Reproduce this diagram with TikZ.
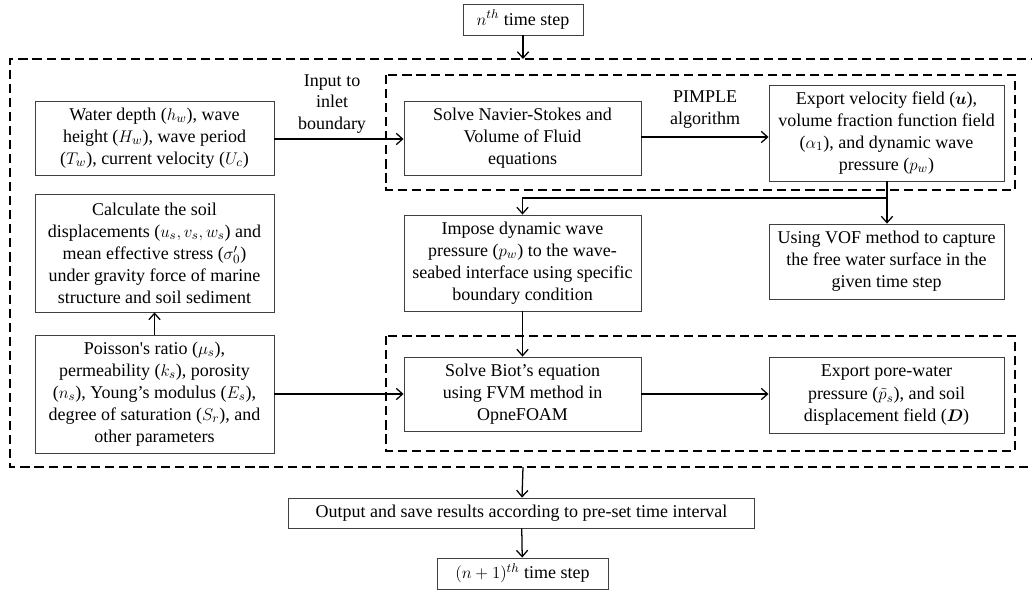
\documentclass[tikz,border=0pt]{standalone}
\usepackage{fontspec}
\setmainfont{Liberation Serif}
\usepackage{amsmath}
\usetikzlibrary{arrows.meta, positioning}
\tikzset{
  box/.style={draw=black!75, line width=0.6pt, align=center, inner sep=0pt, font=\fontsize{12.8}{15.6}\selectfont},
  lbl/.style={align=center, inner sep=0pt, font=\fontsize{12.8}{15.6}\selectfont},
  flow/.style={-{Straight Barb[length=4.5pt,width=8pt]}, line width=0.9pt},
  group/.style={dash pattern=on 6.5pt off 3.5pt, line width=0.9pt}
}

\begin{document}
\begin{tikzpicture}[x=0.025cm, y=-0.025cm]

\useasboundingbox (0,0) rectangle (1032,592);

% dashed groups
\draw[group] (1040,59) -- (10,59) -- (10,467) -- (1040,467);
\draw[group] (386,75) rectangle (1015,190);
\draw[group] (386,336) rectangle (1015,451);
\coordinate (otop) at (523,59);
\coordinate (obot) at (523,467);
\coordinate (split) at (887,198);

% boxes
\node[box, minimum width=85.4pt, minimum height=22.1pt] (nth) at (523,19.5) {$n^{th}$ time step};
\node[box, minimum width=170pt, minimum height=52.6pt] (inp) at (154.5,138) {Water depth ($h_w$), wave\\height ($H_w$), wave period\\($T_w$), current velocity ($U_c$)};
\node[box, minimum width=168.6pt, minimum height=52.6pt] (ns) at (522.5,138) {Solve Navier-Stokes and\\Volume of Fluid\\equations};
\node[box, minimum width=167.2pt, minimum height=68.3pt] (vel) at (886.5,133) {Export velocity field ($\boldsymbol{u}$),\\volume fraction function field\\($\alpha_1$), and dynamic wave\\pressure ($p_w$)};
\node[box, minimum width=168.6pt, minimum height=68.3pt] (imp) at (522.5,263) {Impose dynamic wave\\pressure ($p_w$) to the wave-\\seabed interface using specific\\boundary condition};
\node[box, minimum width=167.2pt, minimum height=53.3pt] (vof) at (886.5,261.5) {Using VOF method to capture\\the free water surface in the\\given time step};
\node[box, minimum width=170pt, minimum height=83.9pt] (calc) at (154.5,253) {Calculate the soil\\displacements ($u_s,v_s,w_s$) and\\mean effective stress ($\sigma_0'$)\\under gravity force of marine\\structure and soil sediment};
\node[box, minimum width=170pt, minimum height=83.9pt] (pois) at (154.5,394) {Poisson\textquotesingle s ratio ($\mu_s$),\\permeability ($k_s$), porosity\\($n_s$), Young’s modulus ($E_s$),\\degree of saturation ($S_r$), and\\other parameters};
\node[box, minimum width=168.6pt, minimum height=52.6pt] (biot) at (522.5,394) {Solve Biot’s equation\\using FVM method in\\OpneFOAM};
\node[box, minimum width=167.2pt, minimum height=54.1pt] (pore) at (886.5,395) {Export pore-water\\[1pt]pressure ($\tilde{p}_s$), and soil\\displacement field ($\boldsymbol{D}$)};
\node[box, minimum width=330.8pt, minimum height=21.3pt] (out) at (521.5,513) {Output and save results according to pre-set time interval};
\node[box, minimum width=121.6pt, minimum height=22.1pt] (next) at (522.5,573.5) {$(n+1)^{th}$ time step};

% labels
\node[lbl] (inlbl) at (332,104) {Input to\\inlet\\boundary};
\node[lbl] (pimple) at (705,110) {PIMPLE\\algorithm};

% connectors
\draw[flow] (nth) -- (otop);
\draw[flow] (inp.east |- 0,139) -- (ns.west |- 0,139);
\draw[flow] (ns.east |- 0,137) -- (vel.west |- 0,137);
\draw[flow] (vel.south -| split) -- (vof.north -| split);
\draw[flow] (split) -| (imp.north);
\draw[flow] (imp) -- (biot);
\draw[flow] (pois) -- (calc);
\draw[flow] (pois) -- (biot);
\draw[flow] (biot) -- (pore.west |- biot);
\draw[flow] (obot) -- (out);
\draw[flow] (out) -- (next);

\end{tikzpicture}
\end{document}
